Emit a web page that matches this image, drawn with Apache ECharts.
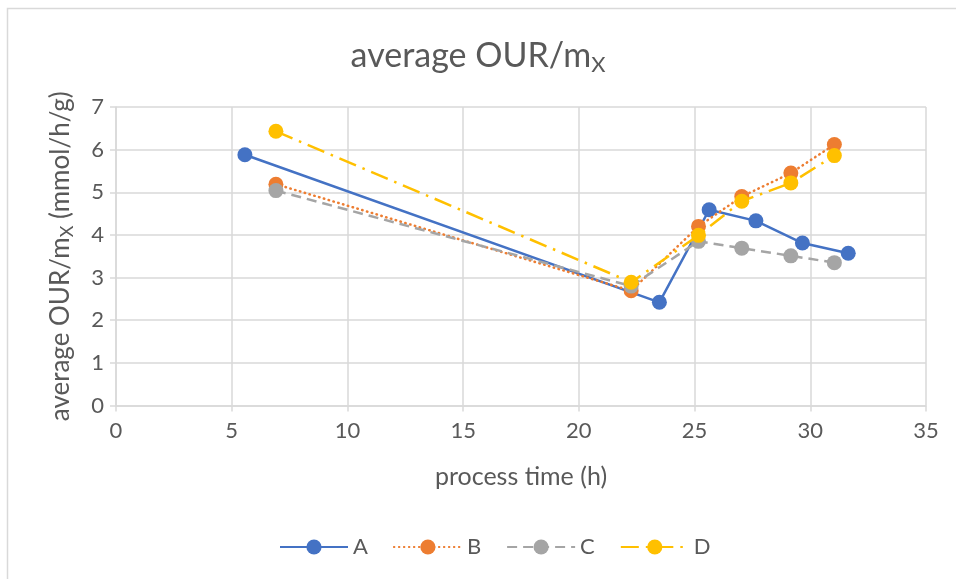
<!DOCTYPE html>
<html>
<head>
<meta charset="utf-8">
<script src="https://cdn.jsdelivr.net/npm/echarts@6/dist/echarts.min.js"></script>
<style>
  html, body { margin: 0; padding: 0; background: #fff; }
  #chart { width: 956px; height: 579px; }
</style>
</head>
<body>
<div id="chart"></div>
<script>
// Average oxygen uptake rate per biomass over process time, four runs
const seriesNames = ['A', 'B', 'C', 'D'];
const timeA = [5.57, 23.48, 25.63, 27.65, 29.66, 31.64];
const ourA  = [5.88, 2.42, 4.59, 4.33, 3.81, 3.57];
const timeB = [6.91, 22.26, 25.17, 27.04, 29.16, 31.04];
const ourB  = [5.19, 2.69, 4.20, 4.90, 5.45, 6.12];
const timeC = [6.91, 22.26, 25.17, 27.04, 29.16, 31.04];
const ourC  = [5.04, 2.80, 3.85, 3.69, 3.51, 3.35];
const timeD = [6.91, 22.26, 25.17, 27.04, 29.16, 31.04];
const ourD  = [6.43, 2.89, 3.99, 4.79, 5.22, 5.86];

const colors = ['#4472C4', '#ED7D31', '#A5A5A5', '#FFC000'];
const dashes = ['solid', [0.5, 4.5], [10, 6], [18, 7, 2.5, 7]];
const caps = ['butt', 'round', 'butt', 'butt'];
const FONT = 'Lato, "Open Sans", sans-serif';
const TEXT = '#595959';

function pairs(xs, ys) { return xs.map((x, i) => [x, ys[i]]); }
const dataSets = [pairs(timeA, ourA), pairs(timeB, ourB), pairs(timeC, ourC), pairs(timeD, ourD)];

const chart = echarts.init(document.getElementById('chart'), null, { renderer: 'canvas' });
chart.setOption({
  animation: false,
  backgroundColor: '#fff',
  textStyle: { fontFamily: FONT },
  graphic: [{
    type: 'rect',
    shape: { x: 7.5, y: 8.5, width: 960, height: 600 },
    style: { fill: 'none', stroke: '#D9D9D9', lineWidth: 1.5 },
    silent: true, z: -1
  }],
  title: {
    text: '{a|average OUR/m}{s|X}',
    left: 'center',
    top: 31,
    textStyle: {
      fontWeight: 'normal',
      rich: {
        a: { fontSize: 34, color: TEXT, fontFamily: FONT, fontWeight: 'normal', lineHeight: 40 },
        s: { fontSize: 22, color: TEXT, fontFamily: FONT, fontWeight: 'normal', lineHeight: 40, verticalAlign: 'bottom', padding: [16, 0, 0, 0] }
      }
    }
  },
  legend: {
    bottom: 16,
    left: 274,
    itemWidth: 68,
    itemHeight: 19,
    itemGap: 25,
    textStyle: { color: TEXT, fontSize: 22, fontFamily: FONT },
    data: seriesNames
  },
  grid: { left: 116, right: 30, top: 107, bottom: 173.5, containLabel: false },
  xAxis: {
    type: 'value',
    min: 0, max: 35, interval: 5,
    name: 'process time (h)',
    nameLocation: 'middle',
    nameGap: 59,
    nameTextStyle: { color: TEXT, fontSize: 25, fontFamily: FONT },
    axisLine: { show: true, lineStyle: { color: '#D9D9D9', width: 1.5 } },
    axisTick: { show: true, length: 6, lineStyle: { color: '#D9D9D9', width: 1.5 } },
    axisLabel: { color: TEXT, fontSize: 22, margin: 14, fontFamily: FONT },
    splitLine: { show: true, lineStyle: { color: '#D9D9D9', width: 1.5 } }
  },
  yAxis: {
    type: 'value',
    min: 0, max: 7, interval: 1,
    name: '{a|average OUR/m}{s|X}{a| (mmol/h/g)}',
    nameLocation: 'middle',
    nameGap: 40,
    nameTextStyle: {
      rich: {
        a: { fontSize: 26, color: TEXT, fontFamily: FONT, lineHeight: 30 },
        s: { fontSize: 18, color: TEXT, fontFamily: FONT, lineHeight: 30, verticalAlign: 'bottom', padding: [12, 0, 0, 0] }
      }
    },
    axisLine: { show: true, lineStyle: { color: '#D9D9D9', width: 1.5 } },
    axisTick: { show: true, length: 6, lineStyle: { color: '#D9D9D9', width: 1.5 } },
    axisLabel: { color: TEXT, fontSize: 22, margin: 12, fontFamily: FONT },
    splitLine: { show: true, lineStyle: { color: '#D9D9D9', width: 1.5 } }
  },
  series: seriesNames.map((name, i) => ({
    name: name,
    type: 'line',
    data: dataSets[i],
    symbol: 'circle',
    symbolSize: 15,
    showSymbol: true,
    color: colors[i],
    itemStyle: { color: colors[i] },
    lineStyle: { color: colors[i], width: 2.5, type: dashes[i], cap: caps[i] },
    z: 2 + i
  }))
});
</script>
</body>
</html>
